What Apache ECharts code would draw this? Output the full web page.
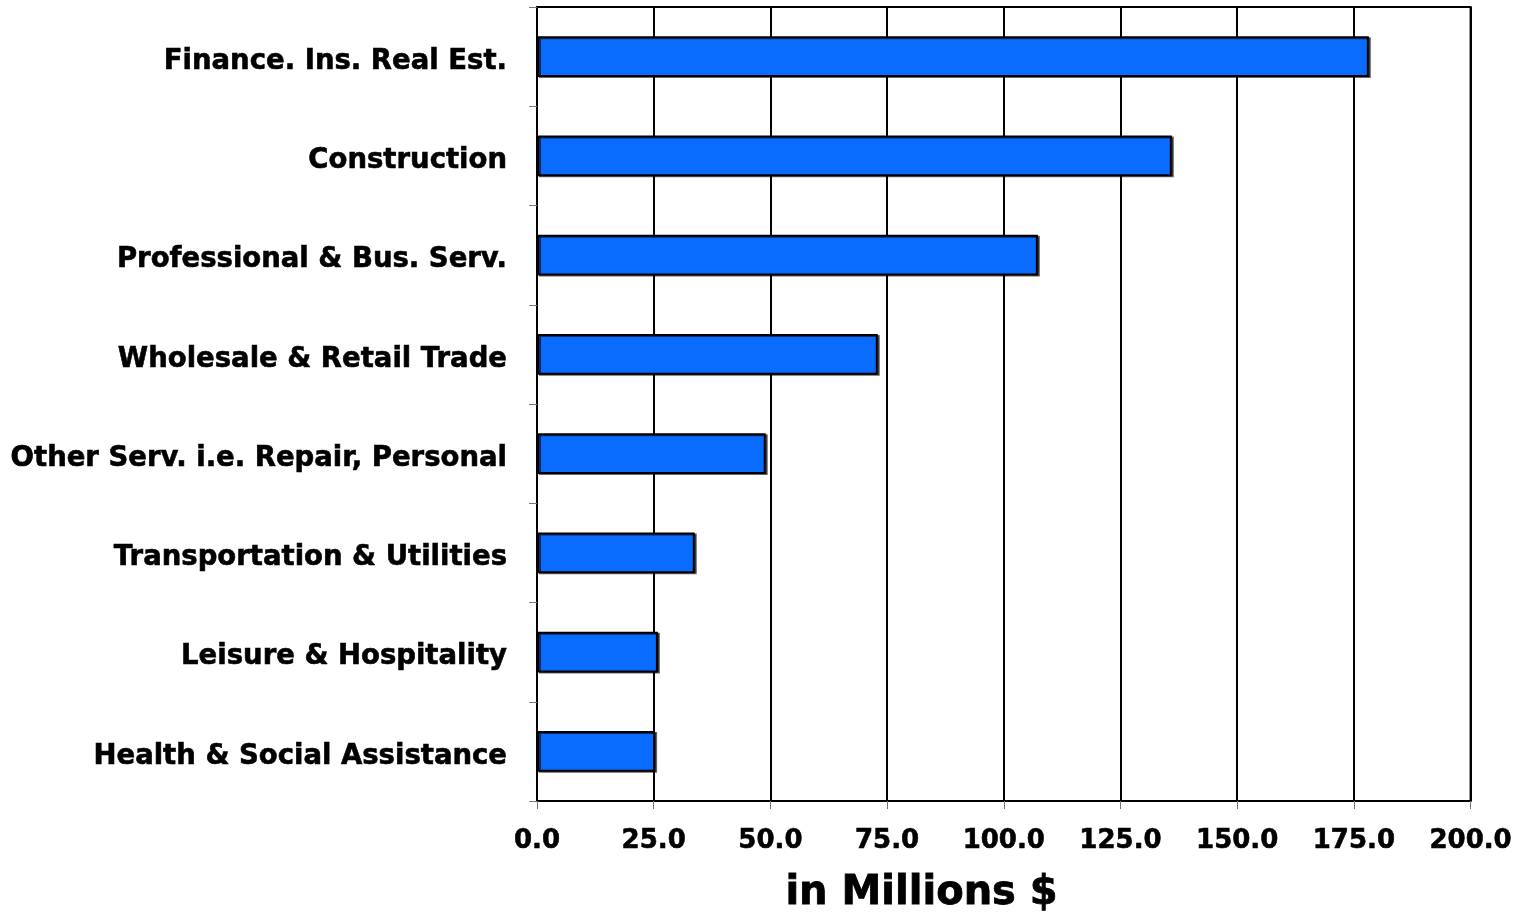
<!DOCTYPE html>
<html>
<head>
<meta charset="utf-8">
<script src="https://cdn.jsdelivr.net/npm/echarts@6/dist/echarts.min.js"></script>
<style>html,body{margin:0;padding:0;background:#fff}#c{width:1515px;height:913px}</style>
</head>
<body>
<div id="c"></div>
<script>
const categories = ["Finance. Ins. Real Est.", "Construction", "Professional & Bus. Serv.", "Wholesale & Retail Trade", "Other Serv. i.e. Repair, Personal", "Transportation & Utilities", "Leisure & Hospitality", "Health & Social Assistance"];
const values = [178.2, 136.0, 107.3, 73.0, 49.0, 33.8, 25.9, 25.3];
const axisTitle = "in Millions $";

const chart = echarts.init(document.getElementById('c'));
const font = "'DejaVu Sans', Verdana, sans-serif";
chart.setOption({
  animation: false,
  grid: { left: 537, right: 44, top: 7, bottom: 112, show: true, borderColor: '#000', borderWidth: 2, containLabel: false },
  xAxis: {
    type: 'value', min: 0, max: 200, interval: 25,
    axisLine: { show: true, lineStyle: { color: '#000', width: 2 } },
    axisTick: { show: true, length: 8, lineStyle: { color: '#777', width: 1 } },
    axisLabel: { formatter: v => v.toFixed(1), color: '#000', fontFamily: font, fontWeight: 'bold', fontSize: 26, margin: 27, textBorderColor: '#000', textBorderWidth: 0.6 },
    splitLine: { show: true, lineStyle: { color: '#000', width: 2 } }
  },
  yAxis: {
    type: 'category', data: categories, inverse: true,
    axisLine: { show: true, lineStyle: { color: '#000', width: 2 } },
    axisTick: { show: true, length: 8, lineStyle: { color: '#777', width: 1 } },
    axisLabel: {
      margin: 30,
      formatter: v => '{a|' + v + '}',
      rich: { a: { color: '#000', fontFamily: font, fontWeight: 'bold', fontSize: 27.5, padding: [10, 0, 0, 0], textBorderColor: '#000', textBorderWidth: 0.6 } }
    }
  },
  graphic: [{
    type: 'text', left: 785, top: 873,
    style: { text: axisTitle, fill: '#000', font: "bold 40px 'DejaVu Sans', Verdana, sans-serif", stroke: '#000', lineWidth: 0.8 }
  }],
  series: [{
    type: 'bar', data: values, barWidth: '41%',
    itemStyle: { color: '#0a6cff', borderColor: '#000', borderWidth: 2, shadowColor: 'rgba(0,0,0,0.6)', shadowOffsetX: 2, shadowOffsetY: 1, shadowBlur: 0 }
  }]
});
</script>
</body>
</html>
